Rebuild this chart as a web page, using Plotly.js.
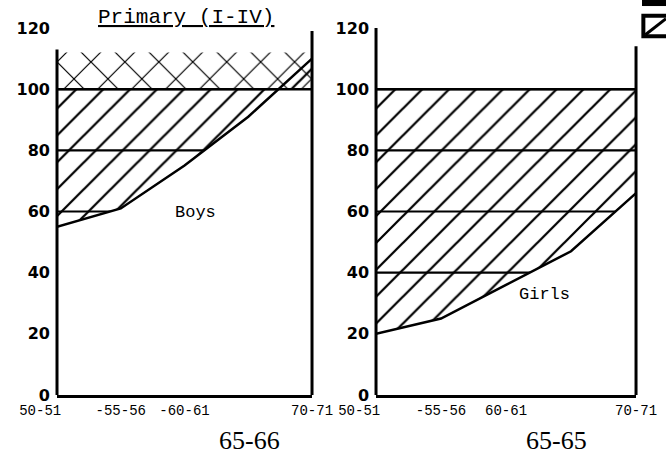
<!DOCTYPE html>
<html>
<head>
<meta charset="utf-8">
<script src="https://cdn.plot.ly/plotly-3.0.1.min.js"></script>
<style>html,body{margin:0;padding:0;background:#fff;}#chart{width:666px;height:464px;}</style>
</head>
<body>
<div id="chart"></div>
<script>
// ---- data ----
const categories = ['50-51', '55-56', '60-61', '65-66', '70-71'];
const boysRatio = [55, 61, 75, 91, 110];
const girlsRatio = [20, 25, 36, 47, 66];
const fullLevel = [100, 100, 100, 100, 100];
const boysOverTop = [112, 112, 112, 112, 112];
const NB = '\u00a0';
const xTickLabelsBoys = ['50-51' + NB.repeat(4), '-55-56', '-60-61', '', '70-71'];
const xTickLabelsGirls = ['50-51' + NB.repeat(4), '-55-56', '60-61', '', '70-71'];
const yTicks = [0, 20, 40, 60, 80, 100, 120];
const levelLines = [40, 60, 80, 100];

const BLACK = '#000';
const CLEAR = 'rgba(0,0,0,0)';
const hatch = {shape: '/', fgcolor: BLACK, bgcolor: CLEAR, size: 19, solidity: 0.12};
const cross = {shape: 'x', fgcolor: BLACK, bgcolor: CLEAR, size: 24, solidity: 0.1};

function panel(xa, ya, values) {
  return [
    {x: categories, y: values, xaxis: xa, yaxis: ya, type: 'scatter', mode: 'lines',
     line: {color: BLACK, width: 2.5}, fill: 'tozeroy', fillcolor: '#fff',
     showlegend: false, hoverinfo: 'skip'},
    {x: categories, y: fullLevel, xaxis: xa, yaxis: ya, type: 'scatter', mode: 'lines',
     line: {color: BLACK, width: 2.5}, fill: 'tonexty', fillcolor: CLEAR, fillpattern: hatch,
     showlegend: false, hoverinfo: 'skip'}
  ];
}

const traces = [].concat(
  panel('x', 'y', boysRatio),
  [{x: categories, y: boysOverTop, xaxis: 'x', yaxis: 'y', type: 'scatter', mode: 'lines',
    line: {color: BLACK, width: 0}, fill: 'tonexty', fillcolor: CLEAR, fillpattern: cross,
    showlegend: false, hoverinfo: 'skip'}],
  panel('x2', 'y2', girlsRatio)
);

const MONO = 'Liberation Mono, monospace';
const SERIF = 'Liberation Serif, serif';
const monoTick = {family: MONO, size: 14, color: BLACK};
const yTickFont = {family: 'DejaVu Sans, sans-serif', size: 16, color: BLACK, weight: 'bold'};

function xAxis(domain, anchor, labels) {
  return {domain: domain, anchor: anchor, type: 'category', range: [0, 4],
    tickvals: categories, ticktext: labels, tickfont: monoTick, ticks: '', tickangle: 0,
    showgrid: false, zeroline: false, showline: true, linecolor: BLACK, linewidth: 3,
    fixedrange: true};
}
function yAxis(anchor) {
  return {domain: [0.1487, 0.9397], anchor: anchor, range: [0, 120],
    tickvals: yTicks, ticktext: yTicks.map(String), tickfont: yTickFont, ticks: '',
    ticklabelstandoff: 6,
    showgrid: false, zeroline: false, showline: false, fixedrange: true};
}

const shapes = [];
// left/right borders of each panel and the level lines inside the hatched area
[['x', 'y', 113, 119], ['x2', 'y2', 120, 114]].forEach(function (p) {
  shapes.push({type: 'line', xref: p[0] + ' domain', yref: p[1], x0: 0, x1: 0, y0: 0, y1: p[2],
    line: {color: BLACK, width: 3}, layer: 'above'});
  shapes.push({type: 'line', xref: p[0] + ' domain', yref: p[1], x0: 1, x1: 1, y0: 0, y1: p[3],
    line: {color: BLACK, width: 3}, layer: 'above'});
  levelLines.forEach(function (v) {
    shapes.push({type: 'line', xref: p[0] + ' domain', yref: p[1], x0: 0, x1: 1, y0: v, y1: v,
      line: {color: BLACK, width: 2.2}, layer: 'below'});
  });
});
// legend keys (the legend is cut off at the right edge of the page)
shapes.push({type: 'rect', xref: 'paper', yref: 'paper', x0: 0.964, x1: 1.01, y0: 0.987, y1: 1.01,
  fillcolor: BLACK, line: {width: 0}});
shapes.push({type: 'rect', xref: 'paper', yref: 'paper', x0: 0.966, x1: 1.02, y0: 0.922, y1: 0.966,
  fillcolor: '#fff', line: {color: BLACK, width: 4}});
shapes.push({type: 'line', xref: 'paper', yref: 'paper', x0: 0.969, x1: 1.0, y0: 0.925, y1: 0.96,
  line: {color: BLACK, width: 3}});

function note(text, x, y, family, size) {
  return {text: text, xref: 'paper', yref: 'paper', x: x, y: y, xanchor: 'center', yanchor: 'middle',
    showarrow: false, font: {family: family, size: size, color: BLACK}};
}
const annotations = [
  note('<u>Primary (I-IV)</u>', 0.279, 0.963, MONO, 21),
  note('Boys', 0.294, 0.543, MONO, 17),
  note('Girls', 0.818, 0.366, MONO, 17),
  note('65-66', 0.375, 0.0517, SERIF, 26),
  note('65-65', 0.835, 0.0517, SERIF, 26)
];

const layout = {
  width: 666, height: 464,
  margin: {l: 0, r: 0, t: 0, b: 0, autoexpand: false},
  paper_bgcolor: '#fff', plot_bgcolor: '#fff',
  showlegend: false,
  xaxis: xAxis([0.0856, 0.4685], 'y', xTickLabelsBoys),
  yaxis: yAxis('x'),
  xaxis2: xAxis([0.5646, 0.955], 'y2', xTickLabelsGirls),
  yaxis2: yAxis('x2'),
  shapes: shapes,
  annotations: annotations
};

Plotly.newPlot('chart', traces, layout, {staticPlot: true, displayModeBar: false});
</script>
</body>
</html>
